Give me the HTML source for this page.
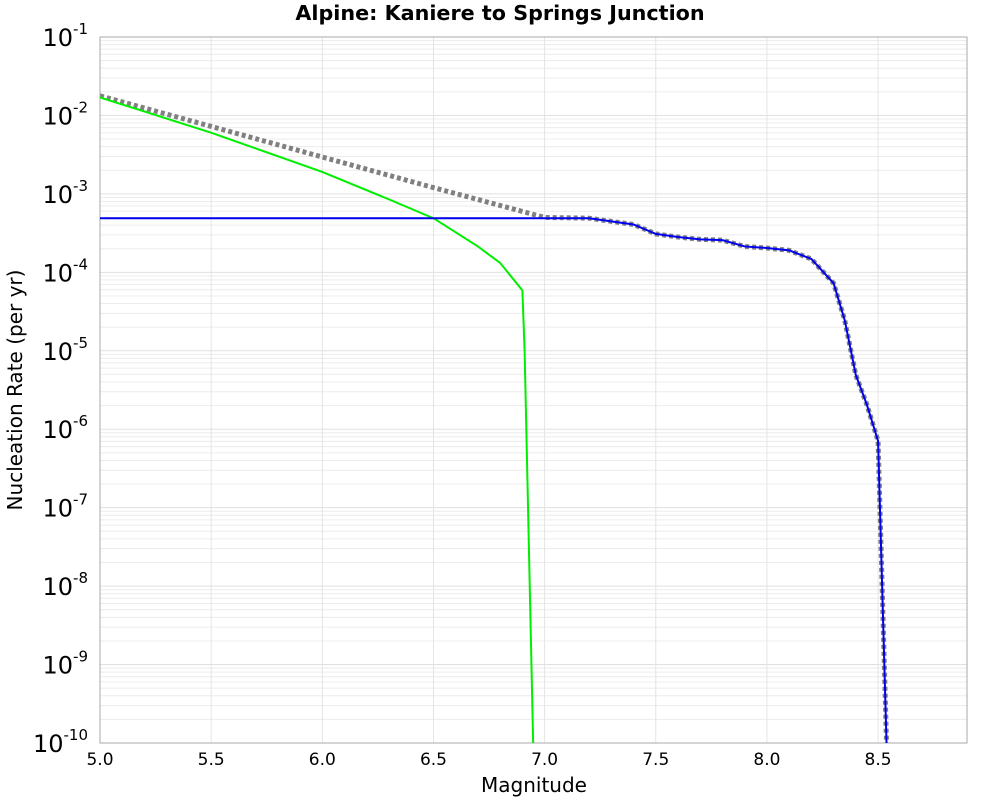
<!DOCTYPE html>
<html><head><meta charset="utf-8"><style>
body{margin:0;background:#fff;font-family:"Liberation Sans","DejaVu Sans",sans-serif}
</style></head><body>
<svg id="chart" width="1000" height="800" xmlns="http://www.w3.org/2000/svg">
<text x="500" y="20" text-anchor="middle" font-size="20.7" font-weight="bold" font-family="DejaVu Sans, sans-serif">Alpine: Kaniere to Springs Junction</text>
<g id="grid"></g>
<g id="axes"></g>
<g id="series"></g>
<text x="534" y="792" text-anchor="middle" font-size="20" font-family="DejaVu Sans, sans-serif">Magnitude</text>
<text transform="translate(22,390) rotate(-90)" text-anchor="middle" font-size="20" font-family="DejaVu Sans, sans-serif">Nucleation Rate (per yr)</text>
</svg>
<script>
const xTicks=[5.0,5.5,6.0,6.5,7.0,7.5,8.0,8.5];
const yDecades=[-1,-2,-3,-4,-5,-6,-7,-8,-9,-10];
const totalMag=[5.0,5.5,6.0,6.5,7.0,7.2,7.3,7.4,7.5,7.6,7.7,7.8,7.9,8.0,8.1,8.2,8.3,8.35,8.4,8.45,8.5,8.54];
const totalLog=[-1.75,-2.14,-2.53,-2.92,-3.30,-3.31,-3.35,-3.39,-3.51,-3.55,-3.58,-3.59,-3.67,-3.69,-3.72,-3.83,-4.14,-4.61,-5.31,-5.69,-6.15,-10.2];
const blueMag=[5.0,7.0,7.2,7.3,7.4,7.5,7.6,7.7,7.8,7.9,8.0,8.1,8.2,8.3,8.35,8.4,8.45,8.5,8.54];
const blueLog=[-3.31,-3.31,-3.31,-3.35,-3.39,-3.51,-3.55,-3.58,-3.59,-3.67,-3.69,-3.72,-3.83,-4.14,-4.61,-5.31,-5.69,-6.15,-10.2];
const greenMag=[5.0,5.5,6.0,6.3,6.5,6.6,6.7,6.8,6.9,6.91,6.95];
const greenLog=[-1.77,-2.22,-2.72,-3.07,-3.31,-3.49,-3.67,-3.88,-4.23,-5.0,-10.2];
const L=100,R=967,T=37,B=743,xmin=5.0,xmax=8.9,ymax=-1,ymin=-10;
const X=m=>L+(m-xmin)/(xmax-xmin)*(R-L);
const Y=l=>T+(ymax-l)/(ymax-ymin)*(B-T);
const NS="http://www.w3.org/2000/svg";
function mk(tag,attrs,parent){const e=document.createElementNS(NS,tag);for(const k in attrs)e.setAttribute(k,attrs[k]);parent.appendChild(e);return e;}
const grid=document.getElementById('grid'),axes=document.getElementById('axes'),series=document.getElementById('series');
mk('rect',{x:L,y:T,width:R-L,height:B-T,fill:'#fff'},grid);
for(let d=-10;d<-1;d++){for(let k=2;k<=9;k++){const y=Y(d+Math.log10(k));
const g=mk('line',{x1:L,x2:R,y1:y,y2:y,stroke:'#ececec','stroke-width':1},grid);
}}
yDecades.forEach(d=>{const y=Y(d);
const g=mk('line',{x1:L,x2:R,y1:y,y2:y,stroke:'#e0e0e0','stroke-width':1},grid);

const t=mk('text',{x:L-12,y:y+9,'text-anchor':'end','font-size':24,'font-family':'DejaVu Sans, sans-serif'},axes);

t.innerHTML='10<tspan dy="-12" font-size="15">'+d+'</tspan>';});
xTicks.forEach(m=>{const x=X(m);
const g=mk('line',{x1:x,x2:x,y1:T,y2:B,stroke:'#e4e4e4','stroke-width':1},grid);

const t=mk('text',{x:x,y:B+22,'text-anchor':'middle','font-size':17,'font-family':'DejaVu Sans, sans-serif'},axes);

t.textContent=m.toFixed(1);});
const fr=mk('rect',{x:L,y:T,width:R-L,height:B-T,fill:'none',stroke:'#aaa','stroke-width':1},axes);

const cp=mk('clipPath',{id:'cp'},series);mk('rect',{x:L,y:T,width:R-L,height:B-T},cp);
function line(ms,ls,attrs,name){const p=mk('polyline',Object.assign({points:ms.map((m,i)=>X(m)+','+Y(ls[i])).join(' '),fill:'none','clip-path':'url(#cp)'},attrs),series);
}
line(totalMag,totalLog,{stroke:'#808080','stroke-width':5,'stroke-dasharray':'4,3'},'total-mfd-line');
line(greenMag,greenLog,{stroke:'#00ee00','stroke-width':2},'gr-mfd-line');
line(blueMag,blueLog,{stroke:'#0000ee','stroke-width':2},'char-mfd-line');
</script>
</body></html>
